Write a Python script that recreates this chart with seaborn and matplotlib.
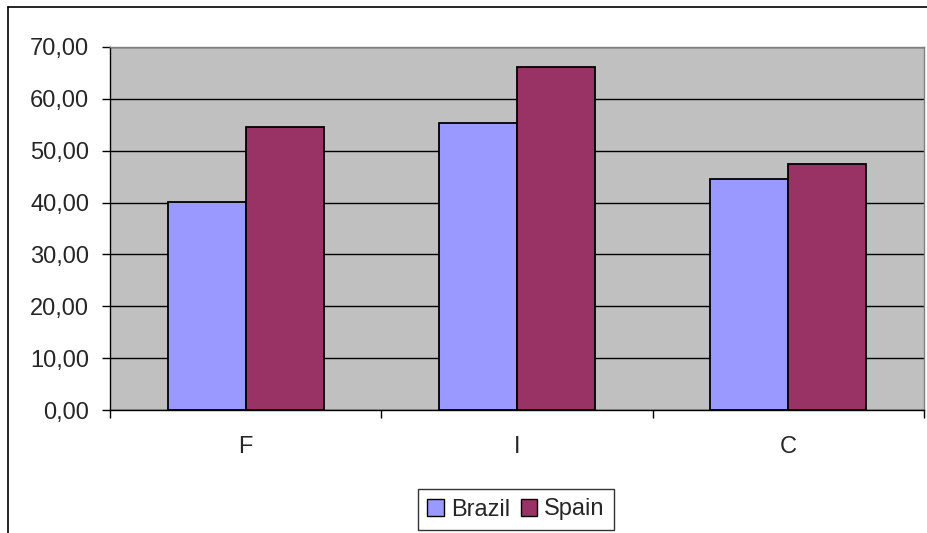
import matplotlib
matplotlib.use("Agg")
import matplotlib.pyplot as plt
import seaborn as sns
import pandas as pd
from matplotlib.ticker import FuncFormatter, FixedLocator
from matplotlib.lines import Line2D
from matplotlib.patches import Patch

categories = ["F", "I", "C"]
series_names = ["Brazil", "Spain"]
brazil = [40.2, 55.3, 44.6]
spain = [54.6, 66.1, 47.4]
colors = ["#9999FF", "#993366"]
yticks = [0, 10, 20, 30, 40, 50, 60, 70]

df = pd.DataFrame({
    "cat": categories * 2,
    "series": [series_names[0]] * 3 + [series_names[1]] * 3,
    "value": brazil + spain,
})

sns.set_style("white")
plt.rcParams["font.family"] = ["Liberation Sans", "DejaVu Sans"]

FS = 17
W, H = 928, 533
fig = plt.figure(figsize=(W / 100, H / 100), dpi=100)
ax = fig.add_axes([110 / W, (H - 410) / H, (924 - 110) / W, (410 - 47) / H])
ax.set_facecolor("#C0C0C0")

sns.barplot(data=df, x="cat", y="value", hue="series", order=categories,
            hue_order=series_names, palette=colors, width=0.576,
            edgecolor="black", linewidth=1.3, saturation=1, ax=ax, legend=False)

ax.set_xlim(-0.5, 2.5)
ax.set_ylim(0, 70)
ax.set_yticks(yticks)
ax.yaxis.set_major_formatter(FuncFormatter(lambda v, p: f"{v:.2f}".replace(".", ",")))
ax.set_axisbelow(True)
ax.yaxis.grid(True, color="black", linewidth=1.0)
ax.xaxis.grid(False)
ax.set_xlabel("")
ax.set_ylabel("")

ax.tick_params(axis="y", which="major", length=6, width=1, color="black",
               labelsize=FS, pad=9, left=True)
ax.tick_params(axis="x", which="major", length=0, labelsize=FS, pad=19)
ax.xaxis.set_minor_locator(FixedLocator([-0.5, 0.5, 1.5, 2.5]))
ax.tick_params(axis="x", which="minor", length=6, width=1, color="black", bottom=True)

for s in ["top", "right"]:
    ax.spines[s].set_color("#808080")
    ax.spines[s].set_linewidth(1)
for s in ["left", "bottom"]:
    ax.spines[s].set_color("black")
    ax.spines[s].set_linewidth(1)

handles = [Patch(facecolor=c, edgecolor="black", linewidth=1) for c in colors]
leg = fig.legend(handles, series_names, loc="center",
                 bbox_to_anchor=(516 / W, (H - 509.5) / H), ncol=2,
                 fontsize=FS, frameon=True, fancybox=False,
                 handlelength=0.7, handleheight=0.7, handletextpad=0.3,
                 columnspacing=0.45, borderpad=0.4, borderaxespad=0)
leg.get_frame().set_edgecolor("black")
leg.get_frame().set_linewidth(1)

# outer chart frame
fig.add_artist(Line2D([8 / W, 8 / W], [0, (H - 7) / H], color="black", linewidth=1.2,
                      transform=fig.transFigure))
fig.add_artist(Line2D([8 / W, 1], [(H - 7) / H, (H - 7) / H], color="black", linewidth=1.2,
                      transform=fig.transFigure))

fig.savefig("out.png", dpi=100)
